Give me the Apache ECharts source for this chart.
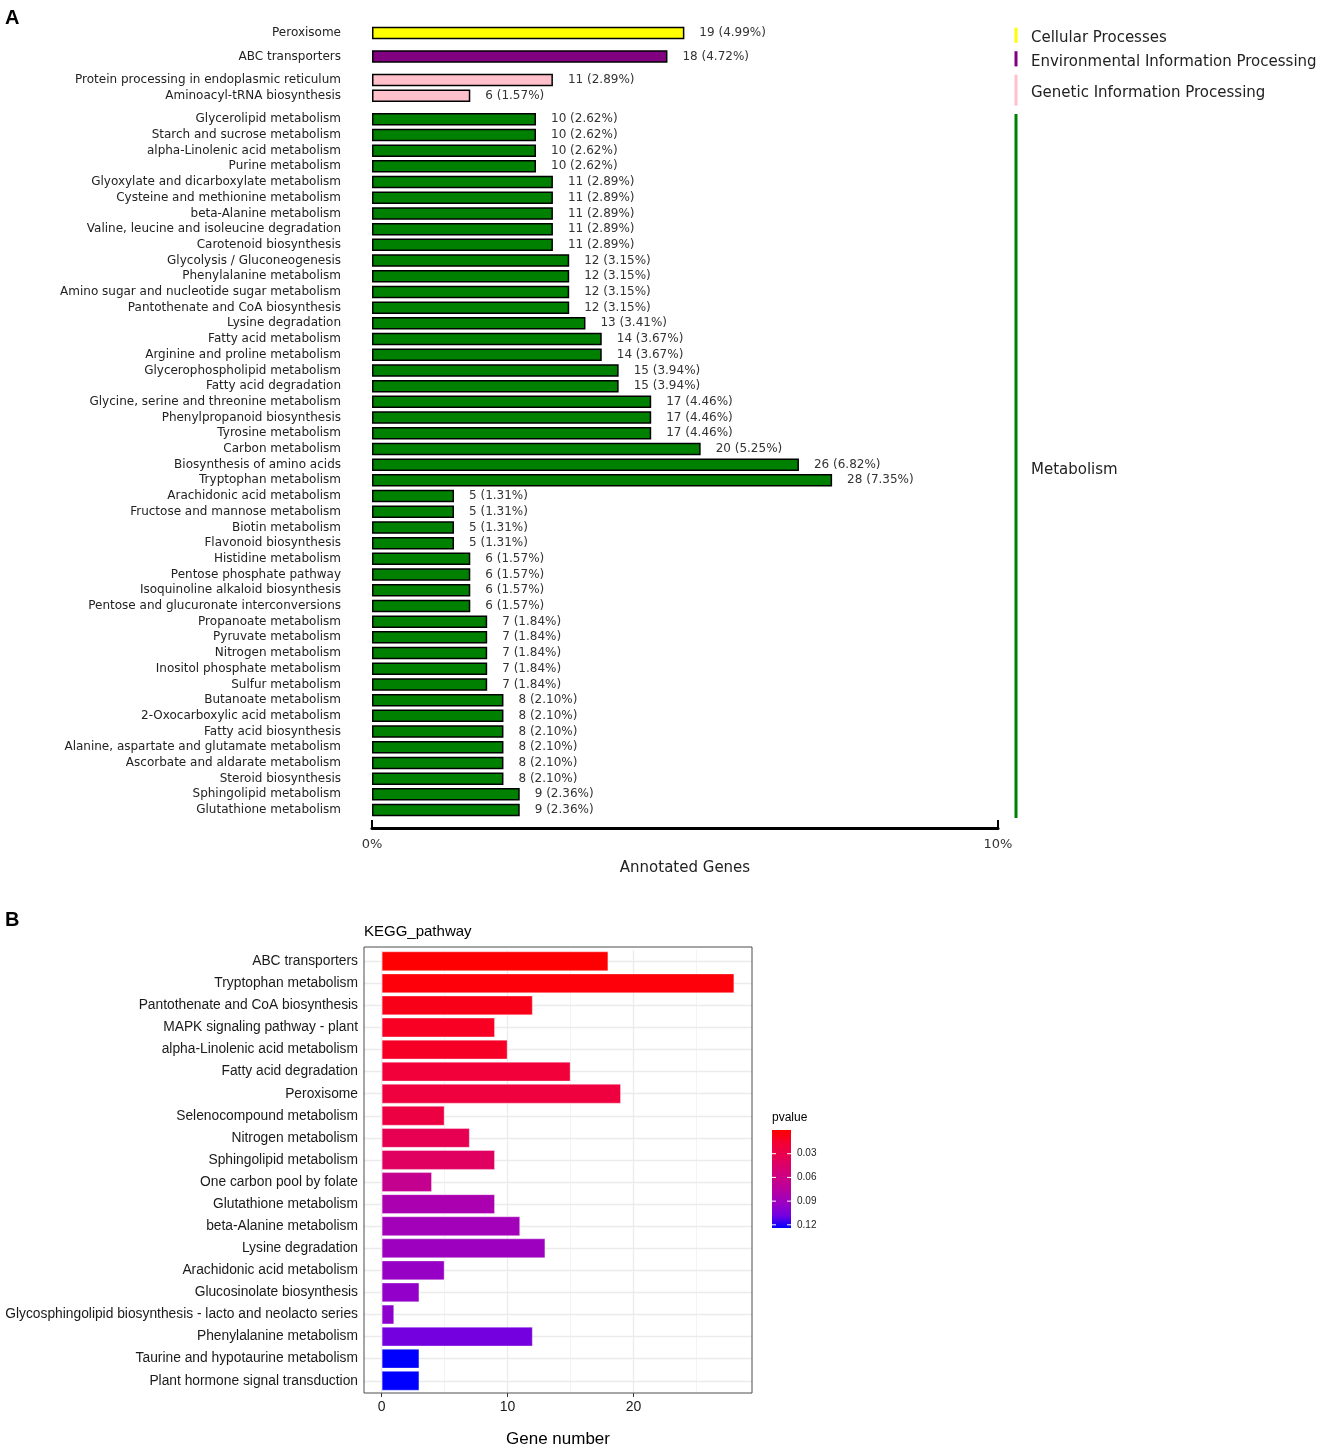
<!DOCTYPE html>
<html lang="en">
<head>
<meta charset="UTF-8">
<title>KEGG pathways</title>
<style>html,body{margin:0;padding:0;background:#fff;}</style>
</head>
<body>
<div id="main" style="width:1325px;height:1450px;"></div>
<script src="https://cdn.jsdelivr.net/npm/echarts@6/dist/echarts.min.js"></script>
<script>
// ---------- panel A : KEGG classification ----------
var groupTitles = ['Cellular Processes', 'Environmental Information Processing', 'Genetic Information Processing', 'Metabolism'];
var groupColors = ['#FFFF00', '#800080', '#FFC0CB', '#008000'];

var cellNames = ['Peroxisome'];
var cellCounts = [19];
var cellPct = [4.99];

var envNames = ['ABC transporters'];
var envCounts = [18];
var envPct = [4.72];

var genNames = ['Protein processing in endoplasmic reticulum', 'Aminoacyl-tRNA biosynthesis'];
var genCounts = [11, 6];
var genPct = [2.89, 1.57];

var metNames = [
    'Glycerolipid metabolism', 'Starch and sucrose metabolism', 'alpha-Linolenic acid metabolism', 'Purine metabolism',
    'Glyoxylate and dicarboxylate metabolism', 'Cysteine and methionine metabolism', 'beta-Alanine metabolism',
    'Valine, leucine and isoleucine degradation', 'Carotenoid biosynthesis', 'Glycolysis / Gluconeogenesis',
    'Phenylalanine metabolism', 'Amino sugar and nucleotide sugar metabolism', 'Pantothenate and CoA biosynthesis',
    'Lysine degradation', 'Fatty acid metabolism', 'Arginine and proline metabolism', 'Glycerophospholipid metabolism',
    'Fatty acid degradation', 'Glycine, serine and threonine metabolism', 'Phenylpropanoid biosynthesis',
    'Tyrosine metabolism', 'Carbon metabolism', 'Biosynthesis of amino acids', 'Tryptophan metabolism',
    'Arachidonic acid metabolism', 'Fructose and mannose metabolism', 'Biotin metabolism', 'Flavonoid biosynthesis',
    'Histidine metabolism', 'Pentose phosphate pathway', 'Isoquinoline alkaloid biosynthesis',
    'Pentose and glucuronate interconversions', 'Propanoate metabolism', 'Pyruvate metabolism', 'Nitrogen metabolism',
    'Inositol phosphate metabolism', 'Sulfur metabolism', 'Butanoate metabolism', '2-Oxocarboxylic acid metabolism',
    'Fatty acid biosynthesis', 'Alanine, aspartate and glutamate metabolism', 'Ascorbate and aldarate metabolism',
    'Steroid biosynthesis', 'Sphingolipid metabolism', 'Glutathione metabolism'
];
var metCounts = [10, 10, 10, 10, 11, 11, 11, 11, 11, 12, 12, 12, 12, 13, 14, 14, 15, 15, 17, 17, 17, 20, 26, 28,
    5, 5, 5, 5, 6, 6, 6, 6, 7, 7, 7, 7, 7, 8, 8, 8, 8, 8, 8, 9, 9];
var metPct = [2.62, 2.62, 2.62, 2.62, 2.89, 2.89, 2.89, 2.89, 2.89, 3.15, 3.15, 3.15, 3.15, 3.41, 3.67, 3.67, 3.94, 3.94,
    4.46, 4.46, 4.46, 5.25, 6.82, 7.35, 1.31, 1.31, 1.31, 1.31, 1.57, 1.57, 1.57, 1.57, 1.84, 1.84, 1.84, 1.84, 1.84,
    2.10, 2.10, 2.10, 2.10, 2.10, 2.10, 2.36, 2.36];

// ---------- panel B : KEGG enrichment ----------
var pathNames = ['ABC transporters', 'Tryptophan metabolism', 'Pantothenate and CoA biosynthesis',
    'MAPK signaling pathway - plant', 'alpha-Linolenic acid metabolism', 'Fatty acid degradation', 'Peroxisome',
    'Selenocompound metabolism', 'Nitrogen metabolism', 'Sphingolipid metabolism', 'One carbon pool by folate',
    'Glutathione metabolism', 'beta-Alanine metabolism', 'Lysine degradation', 'Arachidonic acid metabolism',
    'Glucosinolate biosynthesis', 'Glycosphingolipid biosynthesis - lacto and neolacto series',
    'Phenylalanine metabolism', 'Taurine and hypotaurine metabolism', 'Plant hormone signal transduction'];
var geneNums = [18, 28, 12, 9, 10, 15, 19, 5, 7, 9, 4, 9, 11, 13, 5, 3, 1, 12, 3, 3];
var pValues = [0.0005, 0.003, 0.008, 0.011, 0.012, 0.020, 0.022, 0.024, 0.032, 0.040, 0.066, 0.083, 0.088, 0.091,
    0.094, 0.096, 0.098, 0.108, 0.124, 0.124];
var xTicksB = [0, 10, 20];
var xMinorB = [5, 15, 25];
var pTicks = [0.03, 0.06, 0.09, 0.12];
var pLow = 0, pHigh = 0.124;
// red -> blue, stepped through Lab space like ggplot's gradient
var pRamp = ['#FF0000', '#F40031', '#E8004F', '#DA006C', '#C90088', '#B500A5', '#9A00C3', '#7300E1', '#0000FF'];

var fontA = 'DejaVu Sans';
var fontB = 'Liberation Sans';

var groups = [
    {names: cellNames, counts: cellCounts, pct: cellPct},
    {names: envNames, counts: envCounts, pct: envPct},
    {names: genNames, counts: genCounts, pct: genPct},
    {names: metNames, counts: metCounts, pct: metPct}
];

// layout of panel A
var rowH = 15.7, groupGap = 7.8, topA = 25.2, leftA = 372, widthA = 626;

var grids = [], xAxes = [], yAxes = [], series = [], graphics = [];
var rowsBefore = 0;
groups.forEach(function (g, gi) {
    var top = topA + rowsBefore * rowH + gi * groupGap;
    var h = g.names.length * rowH;
    rowsBefore += g.names.length;
    grids.push({left: leftA, width: widthA, top: top, height: h, outerBoundsMode: 'none'});
    var last = gi === groups.length - 1;
    xAxes.push({
        gridIndex: gi, type: 'value', min: 0, max: 10, interval: 10,
        show: last, offset: 10,
        axisLine: {show: true, lineStyle: {color: '#000', width: 3}},
        axisTick: {show: true, inside: true, length: 8, lineStyle: {color: '#000', width: 2}},
        axisLabel: {formatter: '{value}%', fontSize: 13, color: '#333', margin: 10, fontFamily: fontA},
        splitLine: {show: false},
        name: 'Annotated Genes', nameLocation: 'middle', nameGap: 33,
        nameTextStyle: {fontSize: 15, color: '#222', fontFamily: fontA}
    });
    yAxes.push({
        gridIndex: gi, type: 'category', inverse: true, data: g.names,
        axisLine: {show: false}, axisTick: {show: false},
        axisLabel: {fontSize: 12, color: '#222', margin: 31, fontFamily: fontA}
    });
    series.push({
        type: 'bar', xAxisIndex: gi, yAxisIndex: gi, barWidth: 12.5,
        data: g.pct,
        itemStyle: {color: groupColors[gi], borderColor: '#000', borderWidth: 1.5},
        label: {
            show: true, position: 'right', distance: 15, fontSize: 12, color: '#333', fontFamily: fontA,
            formatter: function (p) { return g.counts[p.dataIndex] + ' (' + g.pct[p.dataIndex].toFixed(2) + '%)'; }
        }
    });
    // group bracket + title on the right
    graphics.push({
        type: 'line', shape: {x1: 1016, y1: top + 2.5, x2: 1016, y2: Math.min(top + h + 2, 818)},
        style: {stroke: groupColors[gi], lineWidth: 3}
    });
    graphics.push({
        type: 'text', x: 1031, y: top + h / 2 + 5.5,
        style: {text: groupTitles[gi], fontSize: 15, fill: '#222', fontFamily: fontA, verticalAlign: 'middle'}
    });
});

// ---------- panel B grid (ggplot style: 0.6 band padding, 5% value padding) ----------
var bi = groups.length;
var panelB = {x: 364, y: 947, w: 388, h: 446};
var unitB = panelB.h / (pathNames.length + 0.2);
var xMaxB = Math.max.apply(null, geneNums);
var expand = 0.05 * xMaxB;
grids.push({
    left: panelB.x, width: panelB.w, top: panelB.y + 0.1 * unitB + 1, height: pathNames.length * unitB,
    outerBoundsMode: 'none'
});
xAxes.push({
    gridIndex: bi, type: 'value', min: -expand, max: xMaxB + expand, offset: 0.1 * unitB - 1,
    axisLine: {show: false}, splitLine: {show: false},
    axisTick: {show: true, customValues: xTicksB, length: 4, lineStyle: {color: '#333'}},
    axisLabel: {
        customValues: xTicksB, fontSize: 14, color: '#1a1a1a', margin: 7, fontFamily: fontB,
        formatter: function (v) { return xTicksB.indexOf(v) >= 0 ? v : ''; }
    },
    name: 'Gene number', nameLocation: 'middle', nameGap: 38,
    nameTextStyle: {fontSize: 17, color: '#000', fontFamily: fontB}
});
yAxes.push({
    gridIndex: bi, type: 'category', inverse: true, data: pathNames,
    axisLine: {show: false},
    axisTick: {show: true, alignWithLabel: true, length: 4, lineStyle: {color: '#333'}},
    axisLabel: {fontSize: 13.8, color: '#1a1a1a', margin: 6, fontFamily: fontB},
    splitLine: {show: false}
});

var gridLines = [];
xTicksB.forEach(function (v) { gridLines.push({xAxis: v, lineStyle: {color: '#EBEBEB', width: 1.3, type: 'solid'}}); });
xMinorB.forEach(function (v) { gridLines.push({xAxis: v, lineStyle: {color: '#F0F0F0', width: 0.8, type: 'solid'}}); });
pathNames.forEach(function (n, i) { gridLines.push({yAxis: i, lineStyle: {color: '#EBEBEB', width: 1.3, type: 'solid'}}); });

series.push({
    type: 'line', xAxisIndex: bi, yAxisIndex: bi, data: [], silent: true, z: 1,
    markLine: {silent: true, symbol: 'none', z: 1, animation: false, label: {show: false}, data: gridLines}
});
series.push({
    type: 'bar', xAxisIndex: bi, yAxisIndex: bi, z: 3, barCategoryGap: '10%',
    encode: {x: 0, y: 1},
    data: pathNames.map(function (n, i) { return [geneNums[i], n, pValues[i]]; }),
    itemStyle: {borderColor: 'rgba(255,255,255,0.35)', borderWidth: 1}
});

// panel border
graphics.push({
    type: 'rect', z: 10, shape: {x: panelB.x, y: panelB.y, width: panelB.w, height: panelB.h},
    style: {fill: 'none', stroke: '#4d4d4d', lineWidth: 1}
});

// colour bar legend for p value
var cbX = 772, cbY = 1130, cbW = 19, cbH = 98;
graphics.push({
    type: 'text', x: cbX, y: cbY - 12,
    style: {text: 'pvalue', fontSize: 12, fill: '#000', fontFamily: fontB, verticalAlign: 'middle'}
});
graphics.push({
    type: 'rect', shape: {x: cbX, y: cbY, width: cbW, height: cbH},
    style: {
        fill: new echarts.graphic.LinearGradient(0, 0, 0, 1, pRamp.map(function (c, i) {
            return {offset: i / (pRamp.length - 1), color: c};
        }))
    }
});
pTicks.forEach(function (p) {
    var y = cbY + (p - pLow) / (pHigh - pLow) * cbH;
    graphics.push({type: 'line', shape: {x1: cbX, y1: y, x2: cbX + 4, y2: y}, style: {stroke: '#fff', lineWidth: 1}});
    graphics.push({type: 'line', shape: {x1: cbX + cbW - 4, y1: y, x2: cbX + cbW, y2: y}, style: {stroke: '#fff', lineWidth: 1}});
    graphics.push({
        type: 'text', x: cbX + cbW + 6, y: y,
        style: {text: p.toFixed(2), fontSize: 10, fill: '#222', fontFamily: fontB, verticalAlign: 'middle'}
    });
});

// panel letters and title of B
graphics.push({type: 'text', x: 5, y: 18, style: {text: 'A', fontSize: 20, fontWeight: 'bold', fill: '#000', fontFamily: fontB, verticalAlign: 'middle'}});
graphics.push({type: 'text', x: 5, y: 920, style: {text: 'B', fontSize: 20, fontWeight: 'bold', fill: '#000', fontFamily: fontB, verticalAlign: 'middle'}});
graphics.push({type: 'text', x: 364, y: 932, style: {text: 'KEGG_pathway', fontSize: 15, fill: '#000', fontFamily: fontB, verticalAlign: 'middle'}});

var myChart = echarts.init(document.getElementById('main'));
myChart.setOption({
    backgroundColor: '#fff',
    animation: false,
    grid: grids,
    xAxis: xAxes,
    yAxis: yAxes,
    visualMap: {
        type: 'continuous', show: false, seriesIndex: series.length - 1, dimension: 2,
        min: pLow, max: pHigh, inRange: {color: pRamp}
    },
    series: series,
    graphic: graphics
});
</script>
</body>
</html>
